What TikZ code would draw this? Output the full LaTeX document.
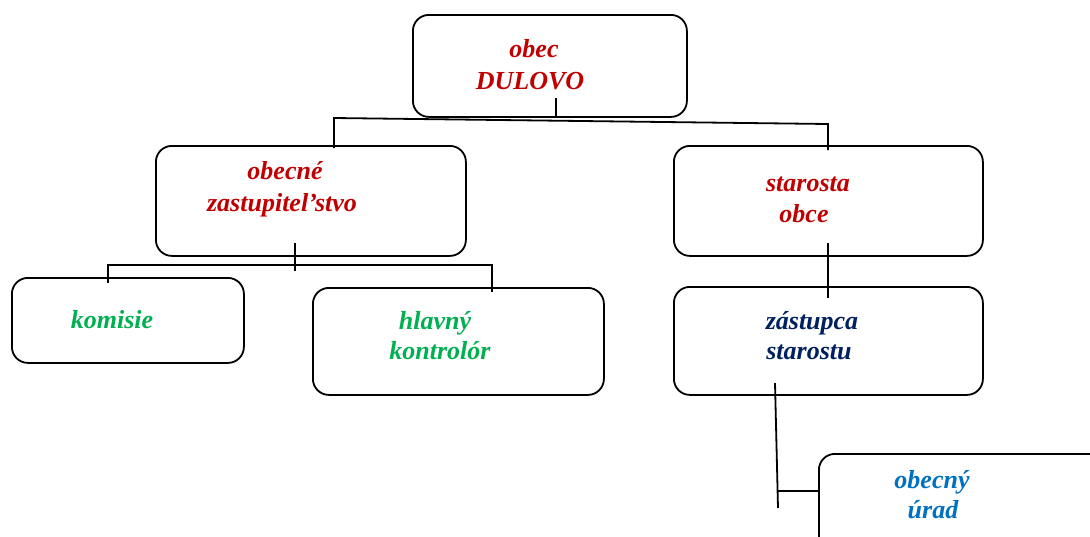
\documentclass[tikz,border=0pt]{standalone}
\usepackage{fontspec}
\setmainfont{Liberation Serif}
\usetikzlibrary{calc}
\definecolor{cred}{HTML}{C00000}
\definecolor{cgreen}{HTML}{00B050}
\definecolor{cnavy}{HTML}{002060}
\definecolor{cblue}{HTML}{0070C0}
\tikzset{
  orgbox/.style={draw=black, line width=1.8pt, rounded corners=16pt, anchor=north west, inner sep=0pt},
  lbl/.style={anchor=base, inner sep=0pt, font=\fontsize{26}{31}\selectfont\bfseries\itshape},
  conn/.style={draw=black, line width=1.8pt}
}
\begin{document}
\begin{tikzpicture}[x=1pt,y=-1pt]
\clip (0,0) rectangle (1090,536);
\fill[white] (0,0) rectangle (1090,536);
% boxes
\node[orgbox, minimum width=274pt, minimum height=102pt] (b1) at (412,14) {};
\node[orgbox, minimum width=310pt, minimum height=110pt] (b2) at (155,145) {};
\node[orgbox, minimum width=309pt, minimum height=110pt] (b3) at (673,145) {};
\node[orgbox, minimum width=232pt, minimum height=85pt] (b4) at (11,277) {};
\node[orgbox, minimum width=291pt, minimum height=107pt] (b5) at (312,287) {};
\node[orgbox, minimum width=309pt, minimum height=108pt] (b6) at (673,286) {};
\node[orgbox, minimum width=300pt, minimum height=110pt] (b7) at (818,453) {};
% texts
\node[lbl, text=cred] (t1a) at (534,57) {obec};
\node[lbl, text=cred] (t1b) at (530,89) {DULOVO};
\node[lbl, text=cred] (t2a) at (285,179) {obecné};
\node[lbl, text=cred] (t2b) at (282,211) {zastupitel’stvo};
\node[lbl, text=cred] (t3a) at (808,191) {starosta};
\node[lbl, text=cred] (t3b) at (804,222) {obce};
\node[lbl, text=cgreen] (t4a) at (112,328) {komisie};
\node[lbl, text=cgreen] (t5a) at (435,329) {hlavný};
\node[lbl, text=cgreen] (t5b) at (440,359) {kontrolór};
\node[lbl, text=cnavy] (t6a) at (812,329) {zástupca};
\node[lbl, text=cnavy] (t6b) at (809,359) {starostu};
\node[lbl, text=cblue] (t7a) at (932,488) {obecný};
\node[lbl, text=cblue] (t7b) at (933,518) {úrad};
% junction coordinates
\coordinate (a0) at (556,98);
\coordinate (a1) at (556,118);
\coordinate (a2) at (334,118);
\coordinate (a3) at (828,124);
\coordinate (a4) at (334,148);
\coordinate (a5) at (828,150);
\coordinate (c0) at (295,243);
\coordinate (c1) at (295,271);
\coordinate (c2) at (108,265);
\coordinate (c3) at (492,265);
\coordinate (c4) at (108,283);
\coordinate (c5) at (492,292);
\coordinate (d0) at (828,243);
\coordinate (d1) at (828,298);
\coordinate (e0) at (775,383);
\coordinate (e1) at (778,508);
\coordinate (e2) at (778,491);
% connectors
\draw[conn] (a0) -- (a1);
\draw[conn] (a4) -- (a2) -- (a3) -- (a5);
\draw[conn] (c0) -- (c1);
\draw[conn] (c4) -- (c2) -- (c3) -- (c5);
\draw[conn] (d0) -- (d1);
\draw[conn] (e0) -- (e1);
\draw[conn] (e2) -- (e2 -| b7.west);
\end{tikzpicture}
\end{document}
